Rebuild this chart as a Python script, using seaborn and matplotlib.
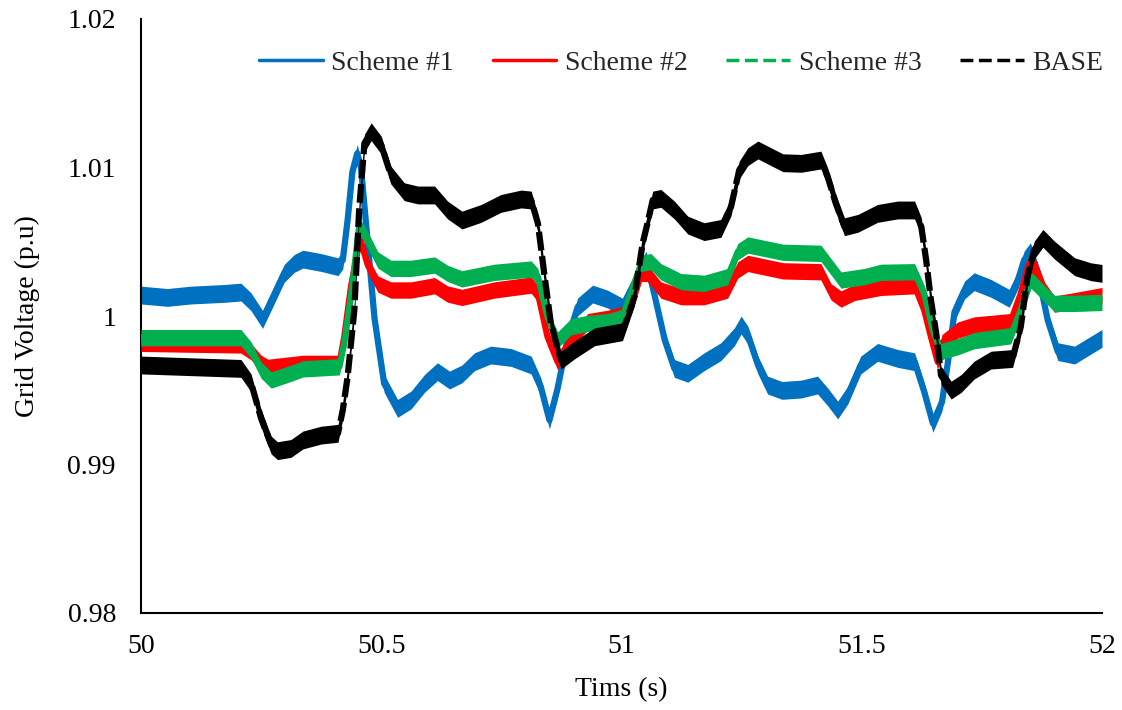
import numpy as np
import pandas as pd
import matplotlib
matplotlib.use("Agg")
import matplotlib.pyplot as plt
from matplotlib.lines import Line2D
import seaborn as sns

# ---- data (band centres) ----
t_s1 = [50.000, 50.055, 50.104, 50.173, 50.208, 50.229, 50.253, 50.277, 50.298, 50.319, 50.337, 50.375,
        50.410, 50.420, 50.430, 50.440, 50.450, 50.458, 50.472, 50.486, 50.506, 50.534, 50.562, 50.590,
        50.617, 50.642, 50.668, 50.694, 50.728, 50.770, 50.812, 50.832, 50.850, 50.867, 50.888, 50.909,
        50.940, 50.971, 51.002, 51.034, 51.051, 51.068, 51.090, 51.110, 51.138, 51.172, 51.207, 51.235,
        51.249, 51.263, 51.284, 51.304, 51.334, 51.374, 51.408, 51.429, 51.450, 51.471, 51.498, 51.533,
        51.575, 51.610, 51.630, 51.648, 51.667, 51.679, 51.693, 51.714, 51.734, 51.769, 51.807, 51.825,
        51.838, 51.851, 51.866, 51.887, 51.908, 51.943, 51.977, 52.000]
v_s1 = [1.00141, 1.00125, 1.00141, 1.00152, 1.00161, 1.00096, 0.99977, 1.00141, 1.00287, 1.00354, 1.00383, 1.00360,
        1.00332, 1.00377, 1.00646, 1.00972, 1.01095, 1.00994, 1.00489, 0.99984, 0.99546, 0.99378, 0.99434, 0.99546,
        0.99625, 0.99569, 0.99610, 0.99692, 0.99737, 0.99721, 0.99670, 0.99524, 0.99299, 0.99512, 0.99849, 1.00062,
        1.00148, 1.00114, 1.00060, 1.00265, 1.00377, 1.00152, 0.99838, 0.99647, 0.99614, 0.99692, 0.99760, 0.99860,
        0.99939, 0.99872, 0.99670, 0.99535, 0.99499, 0.99508, 0.99535, 0.99456, 0.99367, 0.99468, 0.99670, 0.99755,
        0.99714, 0.99692, 0.99490, 0.99277, 0.99420, 0.99681, 1.00026, 1.00175, 1.00231, 1.00186, 1.00119, 1.00242,
        1.00377, 1.00433, 1.00298, 0.99973, 0.99760, 0.99737, 0.99804, 0.99849]

t_s2 = [50.000, 50.208, 50.229, 50.250, 50.264, 50.337, 50.413, 50.423, 50.437, 50.451, 50.457, 50.472,
        50.493, 50.520, 50.562, 50.611, 50.638, 50.668, 50.735, 50.812, 50.826, 50.846, 50.867, 50.895,
        50.930, 50.971, 51.002, 51.020, 51.041, 51.054, 51.082, 51.124, 51.172, 51.221, 51.242, 51.263,
        51.336, 51.415, 51.436, 51.457, 51.485, 51.540, 51.610, 51.630, 51.644, 51.658, 51.667, 51.700,
        51.734, 51.810, 51.831, 51.847, 51.863, 51.880, 51.901, 51.943, 52.000]
v_s2 = [0.99816, 0.99805, 0.99760, 0.99681, 0.99654, 0.99681, 0.99681, 0.99860, 1.00197, 1.00440, 1.00510, 1.00343,
        1.00215, 1.00175, 1.00175, 1.00204, 1.00148, 1.00125, 1.00175, 1.00208, 1.00152, 0.99860, 0.99692, 0.99838,
        0.99962, 0.99984, 1.00010, 1.00063, 1.00287, 1.00287, 1.00175, 1.00130, 1.00130, 1.00175, 1.00310, 1.00354,
        1.00304, 1.00298, 1.00163, 1.00114, 1.00159, 1.00193, 1.00204, 1.00040, 0.99860, 0.99692, 0.99820, 0.99905,
        0.99939, 0.99962, 1.00152, 1.00343, 1.00321, 1.00175, 1.00080, 1.00103, 1.00137]

t_s3 = [50.000, 50.208, 50.229, 50.250, 50.271, 50.312, 50.337, 50.413, 50.423, 50.437, 50.454, 50.465,
        50.493, 50.520, 50.562, 50.611, 50.638, 50.668, 50.735, 50.812, 50.826, 50.846, 50.867, 50.895,
        50.930, 50.971, 51.002, 51.041, 51.061, 51.082, 51.124, 51.172, 51.221, 51.242, 51.263, 51.336,
        51.415, 51.436, 51.457, 51.505, 51.540, 51.610, 51.630, 51.648, 51.665, 51.700, 51.734, 51.810,
        51.831, 51.852, 51.873, 51.901, 51.943, 52.000]
v_s3 = [0.99854, 0.99854, 0.99771, 0.99636, 0.99569, 0.99614, 0.99644, 0.99658, 0.99816, 1.00130, 1.00601, 1.00556,
        1.00377, 1.00321, 1.00321, 1.00343, 1.00287, 1.00250, 1.00294, 1.00316, 1.00265, 0.99995, 0.99838, 0.99928,
        0.99950, 0.99962, 0.99990, 1.00354, 1.00366, 1.00298, 1.00231, 1.00220, 1.00265, 1.00433, 1.00478, 1.00429,
        1.00422, 1.00332, 1.00242, 1.00265, 1.00294, 1.00298, 1.00152, 0.99905, 0.99760, 0.99793, 0.99834, 0.99867,
        1.00040, 1.00242, 1.00175, 1.00085, 1.00085, 1.00092]

t_base = [50.000, 50.208, 50.229, 50.250, 50.271, 50.284, 50.312, 50.337, 50.375, 50.410, 50.420, 50.430,
          50.444, 50.454, 50.465, 50.479, 50.500, 50.520, 50.548, 50.576, 50.611, 50.638, 50.668, 50.708,
          50.749, 50.791, 50.812, 50.826, 50.840, 50.853, 50.874, 50.902, 50.944, 51.002, 51.027, 51.044,
          51.054, 51.065, 51.082, 51.110, 51.138, 51.172, 51.207, 51.228, 51.245, 51.263, 51.284, 51.311,
          51.336, 51.374, 51.415, 51.429, 51.446, 51.464, 51.492, 51.533, 51.575, 51.610, 51.624, 51.634,
          51.644, 51.655, 51.665, 51.686, 51.707, 51.734, 51.769, 51.814, 51.831, 51.845, 51.859, 51.877,
          51.901, 51.943, 51.977, 52.000]
v_base = [0.99670, 0.99647, 0.99550, 0.99310, 0.99131, 0.99093, 0.99108, 0.99165, 0.99198, 0.99210, 0.99367, 0.99591,
          1.00040, 1.00714, 1.01163, 1.01241, 1.01151, 1.00949, 1.00837, 1.00815, 1.00815, 1.00714, 1.00646, 1.00691,
          1.00758, 1.00788, 1.00781, 1.00624, 1.00265, 0.99950, 0.99703, 0.99771, 0.99860, 0.99894, 1.00130, 1.00489,
          1.00624, 1.00781, 1.00792, 1.00714, 1.00612, 1.00568, 1.00590, 1.00736, 1.00983, 1.01073, 1.01118, 1.01073,
          1.01032, 1.01028, 1.01050, 1.00938, 1.00758, 1.00601, 1.00624, 1.00691, 1.00714, 1.00714, 1.00601, 1.00377,
          1.00107, 0.99883, 0.99600, 0.99501, 0.99546, 0.99636, 0.99703, 0.99714, 0.99928, 1.00265, 1.00444, 1.00523,
          1.00444, 1.00332, 1.00298, 1.00287]

series_names = ["Scheme #1", "Scheme #2", "Scheme #3", "BASE"]
series_colors = ["#0070C0", "#FF0000", "#00B050", "#000000"]
series_styles = ["-", "-", "--", "--"]
band_half_width = [0.00060, 0.00055, 0.00055, 0.00060]   # oscillation band half-height (p.u)
x_ticks = [50, 50.5, 51, 51.5, 52]
x_tick_labels = ["50", "50.5", "51", "51.5", "52"]
y_ticks = [0.98, 0.99, 1.00, 1.01, 1.02]
y_tick_labels = ["0.98", "0.99", "1", "1.01", "1.02"]

all_t = [t_s1, t_s2, t_s3, t_base]
all_v = [v_s1, v_s2, v_s3, v_base]
frames = []
for name, t, v in zip(series_names, all_t, all_v):
    frames.append(pd.DataFrame({"t": t, "v": v, "series": name}))
df = pd.concat(frames, ignore_index=True)

sns.set_theme(style="white")
plt.rcParams["font.family"] = ["Liberation Serif", "DejaVu Serif"]

fig = plt.figure(figsize=(11.22, 7.10), dpi=100)
ax = fig.add_axes([141 / 1122, 1 - 613 / 710, (1102 - 141) / 1122, (613 - 19) / 710])

for i, (name, color, hw) in enumerate(zip(series_names, series_colors, band_half_width)):
    sub = df[df["series"] == name]
    ax.fill_between(sub["t"], sub["v"] - hw, sub["v"] + hw, color=color, lw=0, zorder=2 + i)
    sns.lineplot(data=sub, x="t", y="v", color=color, linewidth=4.5,
                 estimator=None, sort=False, legend=False, ax=ax, zorder=2 + i)
    if name == "BASE":
        ax.lines[-1].set_dashes([3, 0.9])

ax.set_xlim(50, 52)
ax.set_ylim(0.98, 1.02)
ax.set_xticks(x_ticks)
ax.set_xticklabels(x_tick_labels)
ax.set_yticks(y_ticks)
ax.set_yticklabels(y_tick_labels)
ax.tick_params(axis="x", direction="in", length=7, width=1.5, pad=15, labelsize=20, colors="black")
ax.tick_params(axis="y", direction="in", length=7, width=1.5, pad=18, labelsize=20, colors="black")
for side in ["top", "right"]:
    ax.spines[side].set_visible(False)
for side in ["left", "bottom"]:
    ax.spines[side].set_color("black")
    ax.spines[side].set_linewidth(1.5)
ax.set_xlabel("Tims (s)", fontsize=20, color="black", labelpad=13)
ax.set_ylabel("Grid Voltage (p.u)", fontsize=20, color="black", labelpad=20)

handles = [Line2D([0], [0], color=c, lw=2.5, linestyle=s) for c, s in zip(series_colors, series_styles)]
ax.legend(handles, series_names, loc="center", bbox_to_anchor=(0.562, 0.926), ncol=4, frameon=False,
          fontsize=20, handlelength=2.3, handletextpad=0.3, columnspacing=1.4)

fig.savefig("out.png", dpi=100)
